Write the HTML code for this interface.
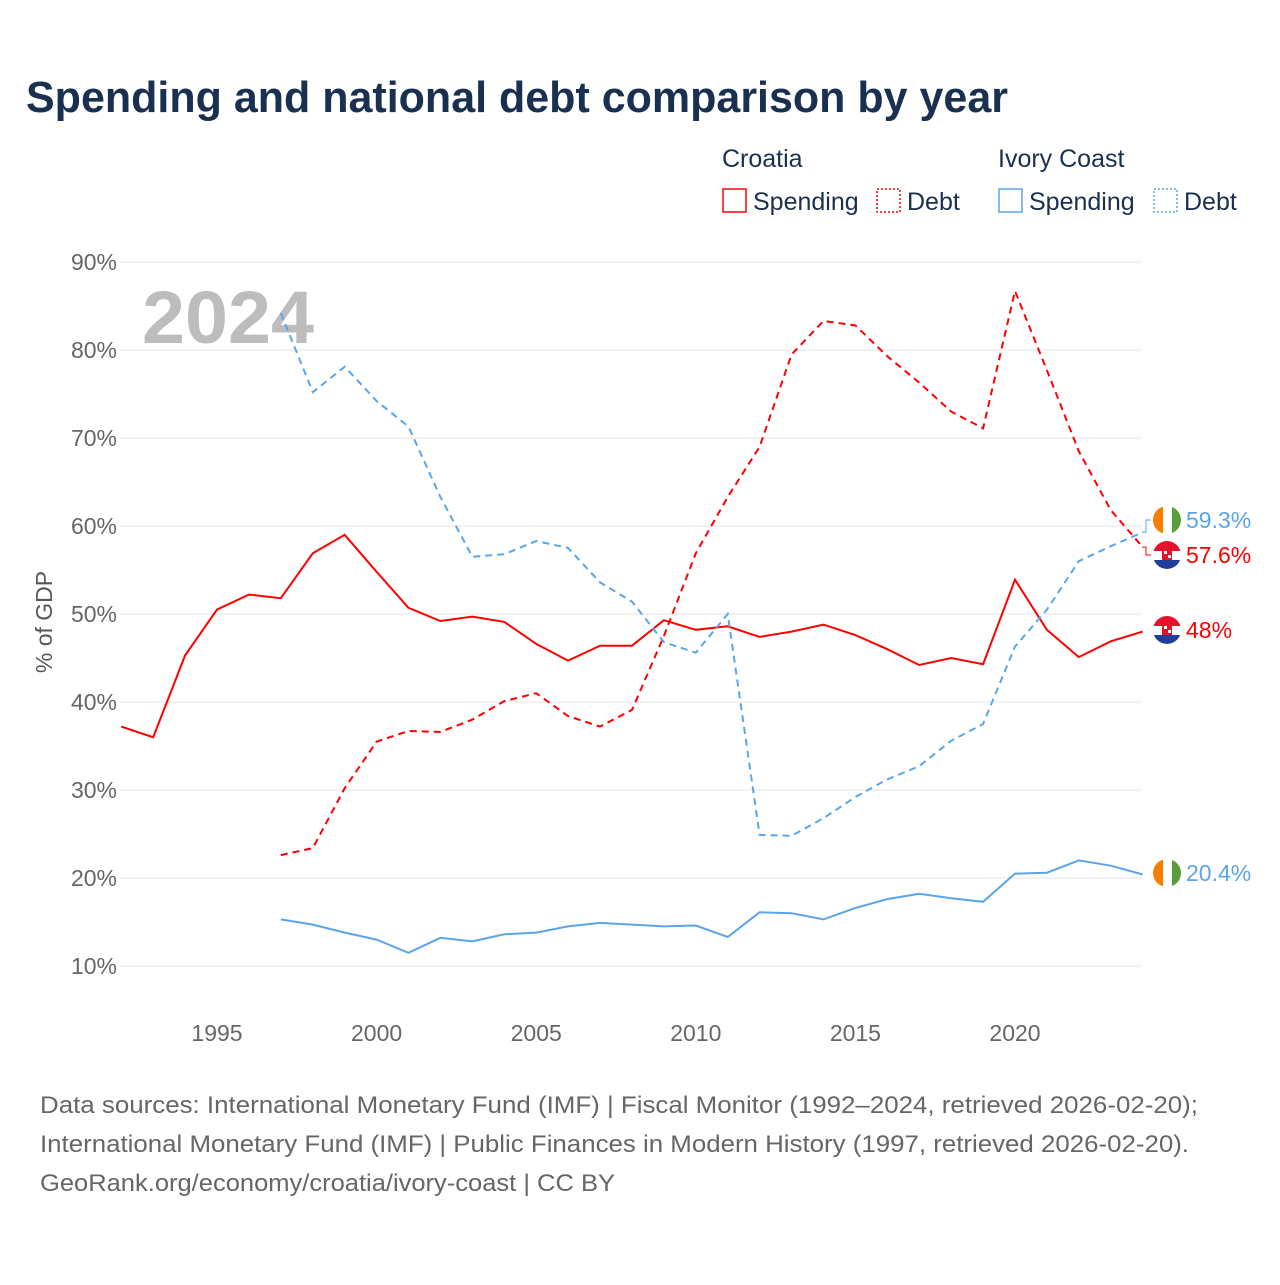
<!DOCTYPE html>
<html><head><meta charset="utf-8"><style>
body{margin:0;background:#fff;font-family:"Liberation Sans",sans-serif;}
svg text{font-family:"Liberation Sans",sans-serif;}
</style></head><body>
<svg id="c" width="1280" height="1280" xmlns="http://www.w3.org/2000/svg">
<text x="26" y="112" font-size="44" font-weight="bold" fill="#1a3050" textLength="982" lengthAdjust="spacingAndGlyphs">Spending and national debt comparison by year</text>
<g font-size="25" fill="#1a3050">
<text x="722" y="167" fill="#1a3050">Croatia</text>
<text x="998" y="167" fill="#1a3050">Ivory Coast</text>
<rect x="723" y="189" width="23" height="23" fill="none" stroke="#f00" stroke-width="1.5"/>
<text x="753" y="210" fill="#1a3050">Spending</text>
<rect x="877" y="189" width="23" height="23" fill="none" stroke="#f00" stroke-width="1.5" stroke-dasharray="2,2"/>
<text x="907" y="210" fill="#1a3050">Debt</text>
<rect x="999" y="189" width="23" height="23" fill="none" stroke="#5aa5ea" stroke-width="1.5"/>
<text x="1029" y="210" fill="#1a3050">Spending</text>
<rect x="1154" y="189" width="23" height="23" fill="none" stroke="#5aa5ea" stroke-width="1.5" stroke-dasharray="2,2"/>
<text x="1184" y="210" fill="#1a3050">Debt</text>
</g>
<text x="142" y="343" font-size="74" font-weight="bold" fill="#bdbdbd" textLength="172" lengthAdjust="spacingAndGlyphs">2024</text>
<g id="grid"></g><g id="series"></g><g id="labels"></g>
<text transform="translate(52,622) rotate(-90)" text-anchor="middle" font-size="23" fill="#555">% of GDP</text>
<g font-size="24" fill="#666">
<text x="40" y="1113" fill="#666" textLength="1158" lengthAdjust="spacingAndGlyphs">Data sources: International Monetary Fund (IMF) | Fiscal Monitor (1992–2024, retrieved 2026-02-20);</text>
<text x="40" y="1152" fill="#666" textLength="1149" lengthAdjust="spacingAndGlyphs">International Monetary Fund (IMF) | Public Finances in Modern History (1997, retrieved 2026-02-20).</text>
<text x="40" y="1191" fill="#666" textLength="575" lengthAdjust="spacingAndGlyphs">GeoRank.org/economy/croatia/ivory-coast | CC BY</text>
</g>
</svg>
<script>
const yearsCro=[1992,1993,1994,1995,1996,1997,1998,1999,2000,2001,2002,2003,2004,2005,2006,2007,2008,2009,2010,2011,2012,2013,2014,2015,2016,2017,2018,2019,2020,2021,2022,2023,2024];
const croSpending=[37.2,36.0,45.3,50.5,52.2,51.8,56.9,59.0,54.8,50.7,49.2,49.7,49.1,46.6,44.7,46.4,46.4,49.3,48.2,48.6,47.4,48.0,48.8,47.6,46.0,44.2,45.0,44.3,53.9,48.2,45.1,46.9,48.0];
const years97=[1997,1998,1999,2000,2001,2002,2003,2004,2005,2006,2007,2008,2009,2010,2011,2012,2013,2014,2015,2016,2017,2018,2019,2020,2021,2022,2023,2024];
const croDebt=[22.6,23.4,30.2,35.5,36.7,36.6,38.0,40.1,41.0,38.4,37.2,39.1,47.5,56.9,63.3,69.0,79.5,83.3,82.8,79.3,76.3,73.0,71.1,86.7,77.7,68.5,61.8,57.6];
const civDebt=[84.2,75.2,78.1,74.2,71.3,63.3,56.5,56.8,58.3,57.5,53.6,51.4,46.8,45.6,50.0,24.9,24.8,26.8,29.2,31.2,32.7,35.6,37.5,46.3,50.5,56.0,57.7,59.3];
const civSpending=[15.3,14.7,13.8,13.0,11.5,13.2,12.8,13.6,13.8,14.5,14.9,14.7,14.5,14.6,13.3,16.1,16.0,15.3,16.6,17.6,18.2,17.7,17.3,20.5,20.6,22.0,21.4,20.4];
const yTicks=[10,20,30,40,50,60,70,80,90];
const xTicks=[1995,2000,2005,2010,2015,2020];
const NS='http://www.w3.org/2000/svg';
const X=y=>217+(y-1995)*31.92;
const Y=v=>966-(v-10)*8.8;
function mk(t,a,p){const e=document.createElementNS(NS,t);for(const k in a)e.setAttribute(k,a[k]);p.appendChild(e);return e;}
const grid=document.getElementById('grid'),ser=document.getElementById('series'),lab=document.getElementById('labels');
yTicks.forEach(v=>{
 const l=mk('line',{x1:120,x2:1142,y1:Y(v),y2:Y(v),stroke:'#e6e6e6','stroke-width':1},grid);
 
 
 const t=mk('text',{x:117,y:Y(v)+8,'text-anchor':'end','font-size':23,fill:'#666'},grid);t.textContent=v+'%';
 
 
});
xTicks.forEach(v=>{
 const t=mk('text',{x:X(v),y:1041,'text-anchor':'middle','font-size':23,fill:'#666'},grid);t.textContent=v;
 
 
});
function line(xs,vs,color,dash,name){
 const d=xs.map((x,i)=>(i?'L':'M')+X(x).toFixed(1)+','+Y(vs[i]).toFixed(1)).join('');
 const p=mk('path',{d:d,fill:'none',stroke:color,'stroke-width':2,'stroke-dasharray':dash||'none'},ser);
 
 
}
line(yearsCro,croSpending,'#f00','', 'croatia-spending-line');
line(years97,croDebt,'#f00','7,5','croatia-debt-line');
line(years97,civDebt,'#5aa5ea','7,5','ivory-coast-debt-line');
line(years97,civSpending,'#5aa5ea','','ivory-coast-spending-line');
function flag(cy,country,name){
 const g=mk('g',{},lab);
 
 
 const cx=1167,r=14;
 const id='clip'+name;
 const cp=mk('clipPath',{id:id},g);mk('circle',{cx:cx,cy:cy,r:r},cp);
 const h=mk('g',{'clip-path':'url(#'+id+')'},g);
 if(country==='civ'){mk('rect',{x:cx-r,y:cy-r,width:10,height:28,fill:'#f77f00'},h);mk('rect',{x:cx-r+10,y:cy-r,width:9,height:28,fill:'#fff'},h);mk('rect',{x:cx-r+19,y:cy-r,width:10,height:28,fill:'#5a9e3a'},h);}
 else{mk('rect',{x:cx-r,y:cy-r,width:28,height:10,fill:'#e8112d'},h);mk('rect',{x:cx-r,y:cy-r+10,width:28,height:9,fill:'#fff'},h);mk('rect',{x:cx-r,y:cy-r+19,width:28,height:10,fill:'#1d3f9a'},h);mk('rect',{x:cx-5,y:cy-6,width:10,height:11,fill:'#e8112d'},h);mk('rect',{x:cx-3,y:cy-4,width:3,height:3,fill:'#fff'},h);mk('rect',{x:cx+1,y:cy,width:3,height:3,fill:'#fff'},h);}
}
function endLabel(v,ly,color,country,name){
 if(Math.abs(Y(v)-ly)>2){const c=mk('path',{d:'M1142,'+Y(v)+' L1146,'+Y(v)+' L1146,'+ly+' L1151,'+ly,fill:'none',stroke:color,'stroke-width':1},lab);}
 flag(ly,country,name+'-flag');
 const t=mk('text',{x:1186,y:ly+8,'font-size':23,fill:color},lab);t.textContent=v+'%';
 
 
}
endLabel(civDebt[civDebt.length-1],520,'#5aa5ea','civ','ivory-coast-debt-end');
endLabel(croDebt[croDebt.length-1],555,'#f00','cro','croatia-debt-end');
endLabel(croSpending[croSpending.length-1],630,'#f00','cro','croatia-spending-end');
endLabel(civSpending[civSpending.length-1],873,'#5aa5ea','civ','ivory-coast-spending-end');
</script>
</body></html>
